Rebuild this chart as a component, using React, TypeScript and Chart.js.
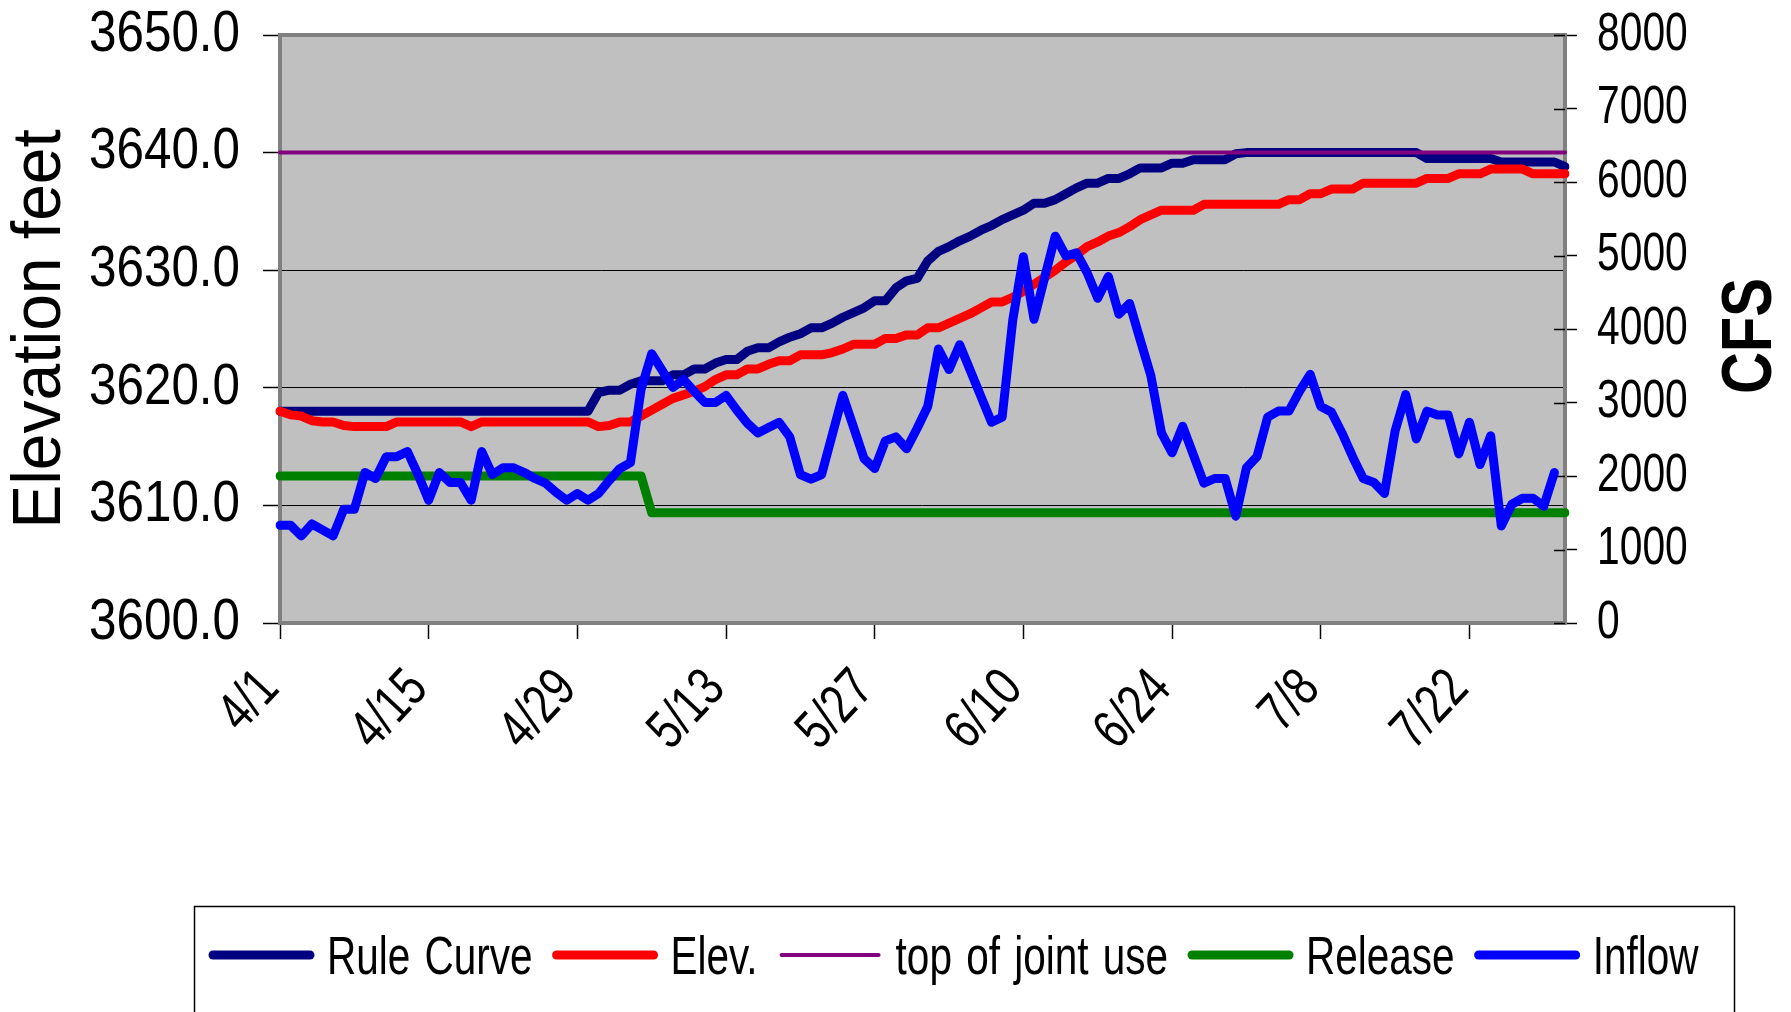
import React, { useEffect, useRef } from 'react';
import { Chart, registerables } from 'chart.js';

Chart.register(...registerables);

// ---------- data ----------
const MONTHS: [string, number][] = [['4', 30], ['5', 31], ['6', 30], ['7', 31]];
const CATEGORIES: string[] = [];
for (const [m, n] of MONTHS) for (let d = 1; d <= n; d++) CATEGORIES.push(`${m}/${d}`);

const TICK_LABELS = ['4/1', '4/15', '4/29', '5/13', '5/27', '6/10', '6/24', '7/8', '7/22'];

const RULE_CURVE = [
  3618.0, 3618.0, 3618.0, 3618.0, 3618.0, 3618.0, 3618.0, 3618.0, 3618.0, 3618.0,
  3618.0, 3618.0, 3618.0, 3618.0, 3618.0, 3618.0, 3618.0, 3618.0, 3618.0, 3618.0,
  3618.0, 3618.0, 3618.0, 3618.0, 3618.0, 3618.0, 3618.0, 3618.0, 3618.0, 3618.0,
  3619.6, 3619.8, 3619.8, 3620.3, 3620.6, 3620.6, 3620.6, 3621.1, 3621.1, 3621.6,
  3621.6, 3622.1, 3622.4, 3622.4, 3623.1, 3623.4, 3623.4, 3623.9, 3624.3, 3624.6,
  3625.1, 3625.1, 3625.5, 3626.0, 3626.4, 3626.8, 3627.4, 3627.4, 3628.5, 3629.1,
  3629.3, 3630.8, 3631.6, 3632.0, 3632.5, 3632.9, 3633.4, 3633.8, 3634.3, 3634.7,
  3635.1, 3635.7, 3635.7, 3636.0, 3636.5, 3637.0, 3637.4, 3637.4, 3637.8, 3637.8,
  3638.2, 3638.7, 3638.7, 3638.7, 3639.1, 3639.1, 3639.4, 3639.4, 3639.4, 3639.4,
  3639.9, 3640.0, 3640.0, 3640.0, 3640.0, 3640.0, 3640.0, 3640.0, 3640.0, 3640.0,
  3640.0, 3640.0, 3640.0, 3640.0, 3640.0, 3640.0, 3640.0, 3640.0, 3639.5, 3639.5,
  3639.5, 3639.5, 3639.5, 3639.5, 3639.5, 3639.2, 3639.2, 3639.2, 3639.2, 3639.2,
  3639.2, 3638.8,
];

const ELEV = [
  3618.0, 3617.7, 3617.6, 3617.2, 3617.1, 3617.1, 3616.8, 3616.7, 3616.7, 3616.7,
  3616.7, 3617.1, 3617.1, 3617.1, 3617.1, 3617.1, 3617.1, 3617.1, 3616.7, 3617.1,
  3617.1, 3617.1, 3617.1, 3617.1, 3617.1, 3617.1, 3617.1, 3617.1, 3617.1, 3617.1,
  3616.7, 3616.8, 3617.1, 3617.1, 3617.6, 3618.1, 3618.6, 3619.1, 3619.4, 3619.7,
  3620.1, 3620.7, 3621.1, 3621.1, 3621.6, 3621.6, 3622.0, 3622.3, 3622.3, 3622.8,
  3622.8, 3622.8, 3623.0, 3623.3, 3623.7, 3623.7, 3623.7, 3624.2, 3624.2, 3624.5,
  3624.5, 3625.1, 3625.1, 3625.5, 3625.9, 3626.3, 3626.8, 3627.3, 3627.3, 3627.7,
  3628.2, 3628.8, 3629.4, 3630.0, 3630.7, 3631.3, 3632.0, 3632.4, 3632.9, 3633.2,
  3633.7, 3634.3, 3634.7, 3635.1, 3635.1, 3635.1, 3635.1, 3635.6, 3635.6, 3635.6,
  3635.6, 3635.6, 3635.6, 3635.6, 3635.6, 3636.0, 3636.0, 3636.5, 3636.5, 3636.9,
  3636.9, 3636.9, 3637.4, 3637.4, 3637.4, 3637.4, 3637.4, 3637.4, 3637.8, 3637.8,
  3637.8, 3638.2, 3638.2, 3638.2, 3638.6, 3638.6, 3638.6, 3638.6, 3638.2, 3638.2,
  3638.2, 3638.2,
];

const TOP_JOINT_USE = CATEGORIES.map(() => 3640.0);

const RELEASE = [
  2000, 2000, 2000, 2000, 2000, 2000, 2000, 2000, 2000, 2000,
  2000, 2000, 2000, 2000, 2000, 2000, 2000, 2000, 2000, 2000,
  2000, 2000, 2000, 2000, 2000, 2000, 2000, 2000, 2000, 2000,
  2000, 2000, 2000, 2000, 2000, 1500, 1500, 1500, 1500, 1500,
  1500, 1500, 1500, 1500, 1500, 1500, 1500, 1500, 1500, 1500,
  1500, 1500, 1500, 1500, 1500, 1500, 1500, 1500, 1500, 1500,
  1500, 1500, 1500, 1500, 1500, 1500, 1500, 1500, 1500, 1500,
  1500, 1500, 1500, 1500, 1500, 1500, 1500, 1500, 1500, 1500,
  1500, 1500, 1500, 1500, 1500, 1500, 1500, 1500, 1500, 1500,
  1500, 1500, 1500, 1500, 1500, 1500, 1500, 1500, 1500, 1500,
  1500, 1500, 1500, 1500, 1500, 1500, 1500, 1500, 1500, 1500,
  1500, 1500, 1500, 1500, 1500, 1500, 1500, 1500, 1500, 1500,
  1500, 1500,
];

const INFLOW: (number | null)[] = [
  1330, 1330, 1185, 1347, 1266, 1185, 1546, 1546, 2047, 1966,
  2263, 2263, 2333, 2020, 1670, 2047, 1912, 1912, 1670, 2333,
  2020, 2112, 2112, 2047, 1966, 1902, 1778, 1670, 1762, 1670,
  1762, 1940, 2101, 2182, 3178, 3663, 3434, 3205, 3313, 3150,
  3000, 3000, 3097, 2900, 2720, 2586, 2660, 2731, 2532, 2020,
  1956, 2020, 2560, 3097, 2666, 2236, 2101, 2478, 2532, 2370,
  2650, 2950, 3728, 3448, 3787, 3435, 3083, 2731, 2801, 4121,
  4983, 4132, 4700, 5263, 4994, 5037, 4767, 4417, 4714, 4202,
  4347, 3852, 3367, 2586, 2316, 2677, 2290, 1902, 1966, 1966,
  1454, 2110, 2263, 2802, 2883, 2883, 3152, 3384, 2947, 2872,
  2586, 2263, 1967, 1913, 1762, 2613, 3109, 2505, 2883, 2829,
  2829, 2301, 2732, 2155, 2548, 1320, 1616, 1697, 1697, 1589,
  2047, null,
];

// ---------- styling ----------
const FONT = "'Liberation Sans', Arial, sans-serif";
const SIZE_LEFT = 57;
const SIZE_RIGHT = 53;
const SIZE_X = 55;
const SIZE_TITLE = 68;
const SIZE_LEGEND = 54;
const SIZE_CFS = 70;
// squeeze along the text direction per font size, imitating the narrow typeface
const SQUEEZE: Record<number, number> = {
  [SIZE_LEFT]: 0.866,
  [SIZE_RIGHT]: 0.77,
  [SIZE_X]: 0.78,
  [SIZE_TITLE]: 0.97,
  [SIZE_LEGEND]: 0.75,
  [SIZE_CFS]: 0.83,
};

function squeezeOf(font: string): number {
  const m = /(\d+(?:\.\d+)?)px/.exec(font);
  return m ? SQUEEZE[Math.round(parseFloat(m[1]))] ?? 1 : 1;
}

function patchContext(ctx: CanvasRenderingContext2D) {
  const orig = ctx.fillText.bind(ctx);
  (ctx as any).fillText = function (text: string, x: number, y: number, maxWidth?: number) {
    const fx = squeezeOf(ctx.font);
    if (fx === 1) {
      if (maxWidth === undefined) orig(text, x, y);
      else orig(text, x, y, maxWidth);
      return;
    }
    ctx.save();
    ctx.translate(x, y);
    ctx.scale(fx, 1);
    orig(text, 0, 0);
    ctx.restore();
  };
}

const plotBackground = {
  id: 'plotBackground',
  beforeDraw(chart: any) {
    const { ctx, chartArea: a } = chart;
    ctx.save();
    ctx.fillStyle = '#ffffff';
    ctx.fillRect(0, 0, chart.width, chart.height);
    ctx.fillStyle = '#c0c0c0';
    ctx.fillRect(a.left, a.top, a.right - a.left, a.bottom - a.top);
    ctx.restore();
  },
};

const plotFrame = {
  id: 'plotFrame',
  beforeDatasetsDraw(chart: any) {
    const { ctx, chartArea: a } = chart;
    ctx.save();
    ctx.strokeStyle = '#808080';
    ctx.lineWidth = 4;
    ctx.strokeRect(a.left, a.top, a.right - a.left, a.bottom - a.top);
    const s = chart.scales.y1;
    ctx.strokeStyle = '#000';
    ctx.lineWidth = 1.5;
    s.ticks.forEach((t: any) => {
      const yy = Math.round(s.getPixelForValue(t.value)) + 0.5;
      ctx.beginPath();
      ctx.moveTo(a.right - 11, yy);
      ctx.lineTo(a.right, yy);
      ctx.stroke();
    });
    ctx.restore();
  },
};

const extras = {
  id: 'extras',
  afterDraw(chart: any) {
    const { ctx, chartArea: a } = chart;
    // right axis title
    ctx.save();
    ctx.translate(1752, (a.top + a.bottom) / 2 + 7);
    ctx.rotate(-Math.PI / 2);
    ctx.font = `bold ${SIZE_CFS}px ${FONT}`;
    ctx.fillStyle = '#000';
    ctx.textAlign = 'center';
    ctx.textBaseline = 'middle';
    ctx.fillText('CFS', 0, 0);
    ctx.restore();

    // legend
    ctx.save();
    ctx.strokeStyle = '#000';
    ctx.lineWidth = 1.5;
    ctx.strokeRect(194.5, 906.5, 1540, 140);
    ctx.font = `${SIZE_LEGEND}px ${FONT}`;
    (ctx as any).wordSpacing = '4px';
    ctx.textBaseline = 'alphabetic';
    ctx.textAlign = 'left';
    const fx = SQUEEZE[SIZE_LEGEND];
    let x = 209;
    const y = 955;
    chart.data.datasets.forEach((ds: any) => {
      ctx.strokeStyle = ds.borderColor;
      ctx.lineWidth = ds.borderWidth;
      ctx.lineCap = 'round';
      ctx.beginPath();
      ctx.moveTo(x + 4, y);
      ctx.lineTo(x + 101, y);
      ctx.stroke();
      x += 105 + 13;
      ctx.fillStyle = '#000';
      ctx.fillText(ds.label, x, y + 19);
      x += ctx.measureText(ds.label).width * fx + 20;
    });
    ctx.restore();
  },
};

export default function App() {
  const ref = useRef<HTMLCanvasElement>(null);

  useEffect(() => {
    const canvas = ref.current as HTMLCanvasElement;
    const c2d = canvas.getContext('2d') as CanvasRenderingContext2D;
    patchContext(c2d);
    const lineCommon = {
      pointRadius: 0,
      pointHoverRadius: 0,
      tension: 0,
      borderCapStyle: 'round',
      borderJoinStyle: 'round',
      fill: false,
    };
    const chart = new Chart(c2d, {
      type: 'line',
      data: {
        labels: CATEGORIES,
        datasets: [
          { ...lineCommon, label: 'Rule Curve', data: RULE_CURVE, borderColor: '#000080', backgroundColor: '#000080', borderWidth: 9, yAxisID: 'y', order: 4 },
          { ...lineCommon, label: 'Elev.', data: ELEV, borderColor: '#ff0000', backgroundColor: '#ff0000', borderWidth: 9, yAxisID: 'y', order: 3 },
          { ...lineCommon, label: 'top of joint use', data: TOP_JOINT_USE, borderColor: '#800080', backgroundColor: '#800080', borderWidth: 4, yAxisID: 'y', order: 2 },
          { ...lineCommon, label: 'Release', data: RELEASE, borderColor: '#008000', backgroundColor: '#008000', borderWidth: 9, yAxisID: 'y1', order: 1 },
          { ...lineCommon, label: 'Inflow', data: INFLOW, borderColor: '#0000ff', backgroundColor: '#0000ff', borderWidth: 9, yAxisID: 'y1', order: 0 },
        ] as any,
      },
      options: {
        responsive: false,
        maintainAspectRatio: false,
        devicePixelRatio: 1,
        animation: false,
        events: [],
        layout: { padding: { top: 35, left: 0, right: 0, bottom: 239 } },
        plugins: {
          legend: { display: false },
          tooltip: { enabled: false },
          title: { display: false },
        },
        scales: {
          x: {
            type: 'category',
            offset: false,
            afterBuildTicks: (s: any) => {
              s.ticks = s.ticks.filter((t: any) => TICK_LABELS.includes(CATEGORIES[t.value]));
            },
            afterFit: (s: any) => { s.height = 150; s.paddingLeft = 0; s.paddingRight = 0; },
            grid: { display: true, drawOnChartArea: false, drawTicks: true, tickLength: 16, tickColor: '#000', tickWidth: 1.5 },
            border: { display: false },
            ticks: {
              autoSkip: false,
              minRotation: 47,
              maxRotation: 47,
              padding: 22,
              labelOffset: -10,
              color: '#000',
              font: { family: FONT, size: SIZE_X, lineHeight: 1 },
              callback: (v: any) => CATEGORIES[v as number],
            },
          },
          y: {
            type: 'linear',
            position: 'left',
            min: 3600,
            max: 3650,
            afterFit: (s: any) => { s.width = 280; s.paddingTop = 0; s.paddingBottom = 0; },
            grid: { color: '#000', lineWidth: 1, drawTicks: true, tickLength: 17, tickColor: '#000', tickWidth: 1.5 },
            border: { display: false },
            ticks: {
              stepSize: 10,
              padding: 23,
              color: '#000',
              font: { family: FONT, size: SIZE_LEFT, lineHeight: 1 },
              callback: (v: any) => Number(v).toFixed(1),
            },
            title: {
              display: true,
              text: 'Elevation feet',
              color: '#000',
              font: { family: FONT, size: SIZE_TITLE, lineHeight: 1.2 },
              padding: { top: 0, bottom: 0 },
            },
          },
          y1: {
            type: 'linear',
            position: 'right',
            min: 0,
            max: 8000,
            afterFit: (s: any) => { s.width = 226; s.paddingTop = 0; s.paddingBottom = 0; },
            grid: { drawOnChartArea: false, drawTicks: true, tickLength: 12, tickColor: '#000', tickWidth: 1.5 },
            border: { display: false },
            ticks: {
              stepSize: 1000,
              padding: 20,
              color: '#000',
              font: { family: FONT, size: SIZE_RIGHT, lineHeight: 1 },
              callback: (v: any) => String(v),
            },
          },
        },
      } as any,
      plugins: [plotBackground, plotFrame, extras],
    });
    return () => chart.destroy();
  }, []);

  return (
    <div style={{ position: 'absolute', left: 0, top: 0, width: 1791, height: 1012, background: '#fff' }}>
      <canvas ref={ref} width={1791} height={1012} style={{ display: 'block', width: 1791, height: 1012 }} />
    </div>
  );
}
